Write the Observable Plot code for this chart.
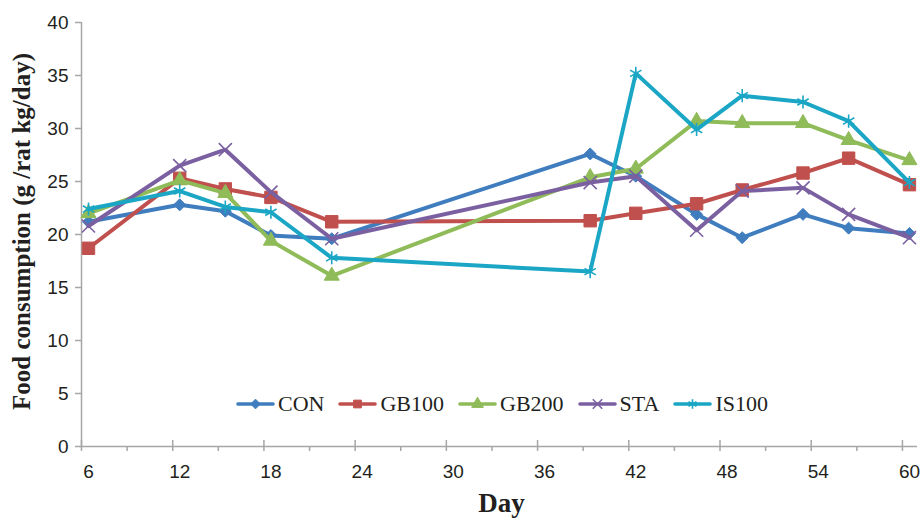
<!DOCTYPE html>
<html>
<head>
<meta charset="utf-8">
<script src="https://cdn.jsdelivr.net/npm/d3@7"></script>
<script src="https://cdn.jsdelivr.net/npm/@observablehq/plot@0.6"></script>
<style>
  html, body { margin: 0; padding: 0; background: #fff; }
  #wrap { position: relative; width: 921px; height: 521px; }
  #legend { position: absolute; left: 236px; top: 391px; display: flex; align-items: center;
            font-family: "Liberation Serif", "Times New Roman", serif; font-size: 22px; color: #231f20; }
  .item { display: flex; align-items: center; margin-right: 14px; }
  .item svg { margin-right: 3px; }
</style>
</head>
<body>
<div id="wrap"><div id="legend"></div></div>
<script>
const days = [6, 12, 15, 18, 22, 39, 42, 46, 49, 53, 56, 60];
const seriesNames = ["CON", "GB100", "GB200", "STA", "IS100"];
const CON   = [21.2, 22.8, 22.2, 19.9, 19.6, 27.6, 25.5, 21.9, 19.7, 21.9, 20.6, 20.1];
const GB100 = [18.7, 25.3, 24.3, 23.5, 21.2, 21.3, 22.0, 22.9, 24.2, 25.8, 27.2, 24.7];
const GB200 = [22.0, 25.1, 23.9, 19.4, 16.1, 25.4, 26.2, 30.7, 30.5, 30.5, 28.9, 27.0];
const STA   = [20.8, 26.5, 28.0, 24.0, 19.6, 24.9, 25.5, 20.4, 24.1, 24.4, 21.9, 19.7];
const IS100 = [22.4, 24.1, 22.6, 22.1, 17.8, 16.5, 35.2, 29.9, 33.1, 32.5, 30.7, 24.9];
const xTicks = [6, 12, 18, 24, 30, 36, 42, 48, 54, 60];
const xMinorTicks = [9, 15, 21, 27, 33, 39, 45, 51, 57];
const yTicks = [0, 5, 10, 15, 20, 25, 30, 35, 40];

const values = {CON, GB100, GB200, STA, IS100};
const colors = {CON: "#3f7dbf", GB100: "#c0504d", GB200: "#8fbb59", STA: "#7b60a1", IS100: "#1aa6c4"};
const symbols = {CON: "diamond2", GB100: "square", GB200: "triangle", STA: "times", IS100: "asterisk"};
const radius = {CON: 5.4, GB100: 7, GB200: 5.6, STA: 6, IS100: 6.2};
const strokeSym = {STA: true, IS100: true};

const xDomain = [5.54, 60.53];
const axisGray = "#a6a6a6";
const textColor = "#231f20";
const serif = "Liberation Serif, Times New Roman, serif";

const marks = [
  Plot.ruleY([0], {stroke: axisGray, strokeWidth: 1.5}),
  Plot.ruleX([xDomain[0]], {stroke: axisGray, strokeWidth: 1.5}),
  Plot.axisY({ticks: yTicks, tickSize: 6, stroke: axisGray, strokeWidth: 1.5, fill: "none", label: null}),
  Plot.axisY({ticks: yTicks, tickSize: 0, tickPadding: 13, fill: textColor, fontSize: 19, label: null}),
  Plot.axisX({ticks: xTicks, tickSize: 11, dy: -6, dx: -7, stroke: axisGray, strokeWidth: 1.5, fill: "none", label: null}),
  Plot.axisX({ticks: xMinorTicks, tickSize: 5, dx: -7, stroke: axisGray, strokeWidth: 1.5, fill: "none", label: null}),
  Plot.axisX({ticks: xTicks, tickSize: 0, tickPadding: 18, fill: textColor, fontSize: 19, label: null}),
  Plot.text(["Food consumption (g /rat kg/day)"], {frameAnchor: "left", textAnchor: "middle", lineAnchor: "middle",
            rotate: -90, dx: -60, dy: -3,
            fontFamily: serif, fontWeight: "bold", fontSize: 25, fill: textColor}),
  Plot.text(["Day"], {frameAnchor: "bottom", textAnchor: "middle", lineAnchor: "middle", dy: 57, dx: 2,
            fontFamily: serif, fontWeight: "bold", fontSize: 27, fill: textColor})
];

for (const name of seriesNames) {
  const data = days.map((d, i) => ({day: d, value: values[name][i]}));
  marks.push(Plot.line(data, {x: "day", y: "value", stroke: colors[name], strokeWidth: 4,
                              strokeLinejoin: "round", strokeLinecap: "round"}));
  marks.push(Plot.dot(data, {x: "day", y: "value", symbol: symbols[name], r: radius[name],
                             fill: strokeSym[name] ? "none" : colors[name], stroke: colors[name],
                             strokeWidth: strokeSym[name] ? 1.6 : 1}));
}

const chart = Plot.plot({
  width: 921,
  height: 521,
  marginLeft: 81,
  marginRight: 4,
  marginTop: 22,
  marginBottom: 75,
  style: {fontFamily: "Liberation Sans, Arial, sans-serif", fontSize: "19px", color: textColor, background: "#fff"},
  x: {domain: xDomain},
  y: {domain: [0, 40]},
  marks
});
document.getElementById("wrap").prepend(chart);

// legend
const legend = d3.select("#legend");
const symMap = {diamond2: d3.symbolDiamond2, square: d3.symbolSquare, triangle: d3.symbolTriangle,
                times: d3.symbolTimes, asterisk: d3.symbolAsterisk};
for (const name of seriesNames) {
  const item = legend.append("div").attr("class", "item");
  const svg = item.append("svg").attr("width", 39).attr("height", 16);
  svg.append("line").attr("x1", 2).attr("x2", 37).attr("y1", 8).attr("y2", 8)
     .attr("stroke", colors[name]).attr("stroke-width", 3.6).attr("stroke-linecap", "round");
  svg.append("path").attr("transform", "translate(19.5,8)")
     .attr("d", d3.symbol(symMap[symbols[name]], 60)())
     .attr("fill", strokeSym[name] ? "none" : colors[name])
     .attr("stroke", colors[name]).attr("stroke-width", strokeSym[name] ? 1.6 : 1);
  item.append("span").text(name);
}
</script>
</body>
</html>
